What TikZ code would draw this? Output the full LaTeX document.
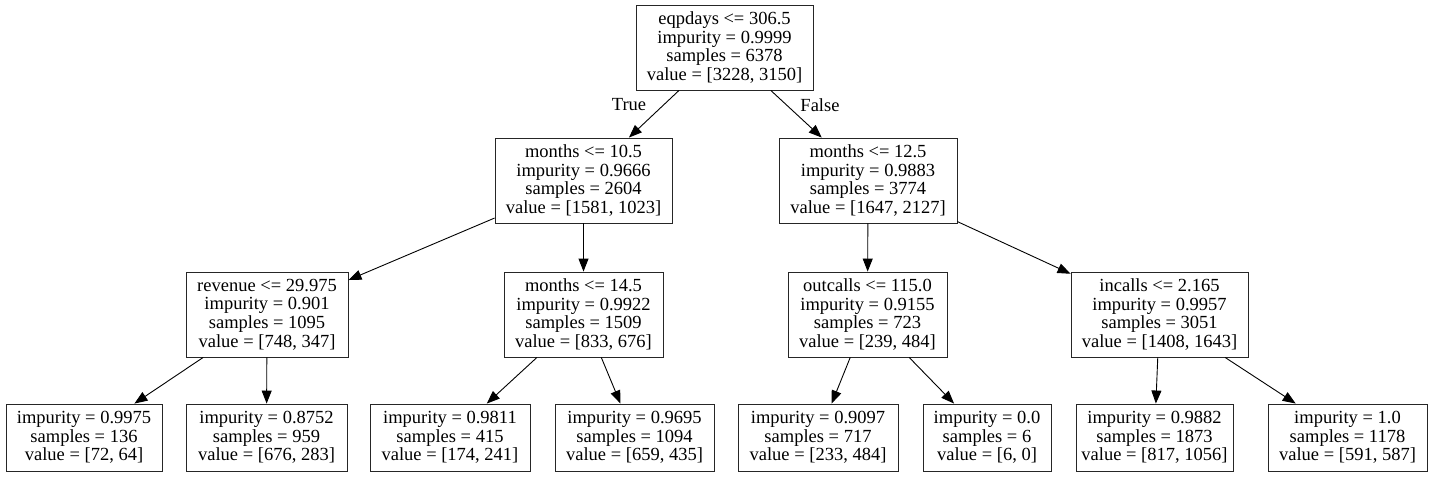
\documentclass[tikz,border=0pt]{standalone}
\usepackage{fontspec}
\setmainfont{Liberation Serif}
\usetikzlibrary{arrows.meta}
\begin{document}
\begin{tikzpicture}[x=1pt,y=-1pt,
  tbox/.style={draw=black!85, line width=0.9pt, rectangle, inner sep=0pt, align=center,
    font=\fontsize{18.5}{18.7}\selectfont, minimum height=85pt,
    execute at begin node={\rule{0pt}{17pt}}},
  leafbox/.style={tbox, minimum height=67pt},
  edge/.style={line width=0.9pt, -{Triangle[length=13pt,width=10pt]}},
  elabel/.style={font=\fontsize{18.5}{18.7}\selectfont}]
\useasboundingbox (0,0) rectangle (1433,477);
\node[tbox, minimum width=177pt] (root) at (724.5,47.5) {eqpdays <= 306.5\\impurity = 0.9999\\samples = 6378\\value = [3228, 3150]};
\node[tbox, minimum width=177pt] (l) at (583.5,180.5) {months <= 10.5\\impurity = 0.9666\\samples = 2604\\value = [1581, 1023]};
\node[tbox, minimum width=178pt] (r) at (868,180.5) {months <= 12.5\\impurity = 0.9883\\samples = 3774\\value = [1647, 2127]};
\node[tbox, minimum width=162pt] (ll) at (267,314.5) {revenue <= 29.975\\impurity = 0.901\\samples = 1095\\value = [748, 347]};
\node[tbox, minimum width=159pt] (lr) at (583.5,314.5) {months <= 14.5\\impurity = 0.9922\\samples = 1509\\value = [833, 676]};
\node[tbox, minimum width=159pt] (rl) at (867.5,314.5) {outcalls <= 115.0\\impurity = 0.9155\\samples = 723\\value = [239, 484]};
\node[tbox, minimum width=177pt] (rr) at (1159.5,314.5) {incalls <= 2.165\\impurity = 0.9957\\samples = 3051\\value = [1408, 1643]};
\node[leafbox, minimum width=156pt] (f1) at (84,437.5) {impurity = 0.9975\\samples = 136\\value = [72, 64]};
\node[leafbox, minimum width=161pt] (f2) at (266.5,437.5) {impurity = 0.8752\\samples = 959\\value = [676, 283]};
\node[leafbox, minimum width=160pt] (f3) at (450,437.5) {impurity = 0.9811\\samples = 415\\value = [174, 241]};
\node[leafbox, minimum width=159pt] (f4) at (634.5,437.5) {impurity = 0.9695\\samples = 1094\\value = [659, 435]};
\node[leafbox, minimum width=160pt] (f5) at (818,437.5) {impurity = 0.9097\\samples = 717\\value = [233, 484]};
\node[leafbox, minimum width=128pt] (f6) at (987,437.5) {impurity = 0.0\\samples = 6\\value = [6, 0]};
\node[leafbox, minimum width=157pt] (f7) at (1154.5,437.5) {impurity = 0.9882\\samples = 1873\\value = [817, 1056]};
\node[leafbox, minimum width=159pt] (f8) at (1347.5,437.5) {impurity = 1.0\\samples = 1178\\value = [591, 587]};
\draw[edge] (root) -- (l);
\draw[edge] (root) -- (r);
\draw[edge] (l) -- (ll);
\draw[edge] (l) -- (lr);
\draw[edge] (r) -- (rl);
\draw[edge] (r) -- (rr);
\draw[edge] (ll) -- (f1);
\draw[edge] (ll) -- (f2);
\draw[edge] (lr) -- (f3);
\draw[edge] (lr) -- (f4);
\draw[edge] (rl) -- (f5);
\draw[edge] (rl) -- (f6);
\draw[edge] (rr) -- (f7);
\draw[edge] (rr) -- (f8);
\node[elabel] (tl) at (629,105) {True};
\node[elabel] (fl) at (820,105) {False};
\end{tikzpicture}
\end{document}
